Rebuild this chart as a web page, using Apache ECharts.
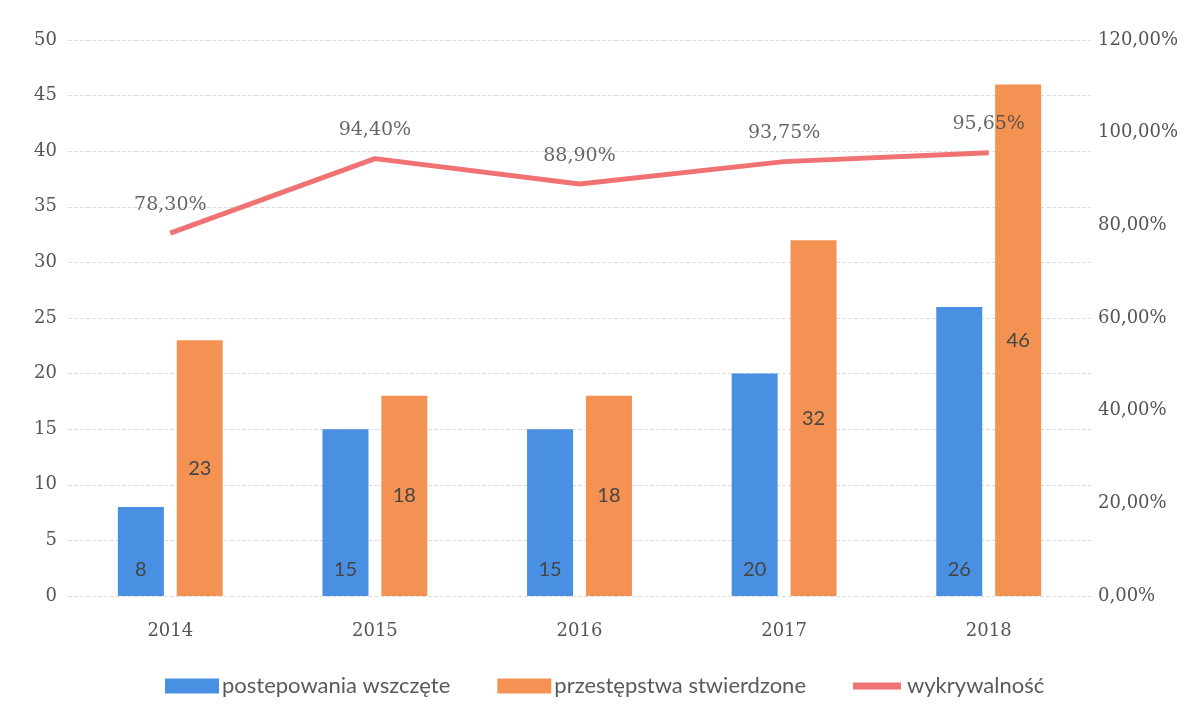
<!DOCTYPE html>
<html>
<head>
<meta charset="utf-8">
<script src="https://cdn.jsdelivr.net/npm/echarts@6/dist/echarts.min.js"></script>
<style>
html,body{margin:0;padding:0;background:#fff;}
#chart{width:1195px;height:722px;}
</style>
</head>
<body>
<div id="chart"></div>
<script>
const categories = ['2014', '2015', '2016', '2017', '2018'];
const postepowania = [8, 15, 15, 20, 26];
const przestepstwa = [23, 18, 18, 32, 46];
const wykrywalnosc = [78.30, 94.40, 88.90, 93.75, 95.65];
const seriesNames = ['postepowania wszczęte', 'przestępstwa stwierdzone', 'wykrywalność'];

const fmtPct = v => Number(v).toFixed(2).replace('.', ',') + '%';
const axisFont = { fontFamily: 'DejaVu Serif', fontSize: 18, color: '#555555' };

const chart = echarts.init(document.getElementById('chart'));
chart.setOption({
  backgroundColor: '#ffffff',
  animation: false,
  grid: { left: 68, right: 104, top: 40, bottom: 126 },
  legend: {
    bottom: 20,
    left: 160,
    itemWidth: 54,
    itemHeight: 15,
    itemGap: 47,
    textStyle: { fontFamily: 'Lato', fontSize: 22, color: '#5a5a5a', padding: [0, 0, 0, -2] },
    data: [
      { name: seriesNames[0], icon: 'rect' },
      { name: seriesNames[1], icon: 'rect' },
      { name: seriesNames[2], icon: 'path://M0,0h48v0.01h-48z M0,4h48v7h-48z M0,15h48v0.01h-48z' }
    ]
  },
  xAxis: {
    type: 'category',
    data: categories,
    axisLine: { show: false },
    axisTick: { show: false },
    axisLabel: Object.assign({ margin: 26 }, axisFont)
  },
  yAxis: [
    {
      type: 'value', min: 0, max: 50, interval: 5,
      axisLine: { show: false }, axisTick: { show: false },
      axisLabel: Object.assign({ margin: 11 }, axisFont),
      splitLine: { lineStyle: { color: '#dddddd', type: 'dashed', width: 1 } }
    },
    {
      type: 'value', min: 0, max: 120, interval: 20,
      axisLine: { show: false }, axisTick: { show: false },
      axisLabel: Object.assign({ margin: 7, formatter: fmtPct }, axisFont),
      splitLine: { show: false }
    }
  ],
  series: [
    {
      name: seriesNames[0], type: 'bar', data: postepowania,
      barWidth: 46, barGap: '28%',
      itemStyle: { color: '#4a90e2' },
      label: { show: true, position: 'insideBottom', distance: 16, fontFamily: 'Lato', fontSize: 20, color: '#454545' }
    },
    {
      name: seriesNames[1], type: 'bar', data: przestepstwa,
      barWidth: 46,
      itemStyle: { color: '#f39252' },
      label: { show: true, position: 'inside', fontFamily: 'Lato', fontSize: 20, color: '#454545' }
    },
    {
      name: seriesNames[2], type: 'line', yAxisIndex: 1, data: wykrywalnosc,
      symbol: 'none', z: 1,
      lineStyle: { color: '#f07272', width: 5 },
      itemStyle: { color: '#f07272' }
    },
    {
      name: 'labels', type: 'scatter', yAxisIndex: 1, data: wykrywalnosc,
      symbolSize: 2, silent: true, z: 5,
      itemStyle: { color: 'rgba(0,0,0,0)' },
      label: { show: true, position: 'top', distance: 18, formatter: p => fmtPct(p.value), fontFamily: 'DejaVu Serif', fontSize: 19, color: '#404040' }
    }
  ]
});
</script>
</body>
</html>
